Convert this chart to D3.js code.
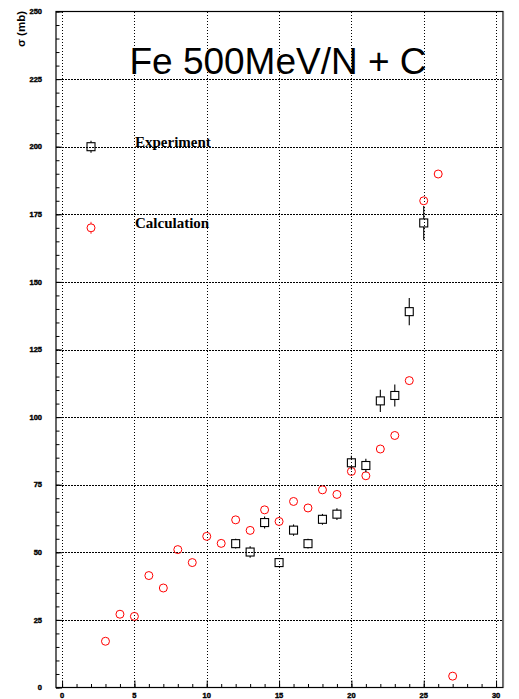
<!DOCTYPE html>
<html>
<head>
<meta charset="utf-8">
<script src="https://cdn.jsdelivr.net/npm/d3@7"></script>
<style>
  html, body { margin: 0; padding: 0; background: #fff; }
  svg { display: block; }
</style>
</head>
<body>
<svg id="chart" width="519" height="699"></svg>
<script>
// ---- data ----
const calcZ = [3, 4, 5, 6, 7, 8, 9, 10, 11, 12, 13, 14, 15, 16, 17, 18, 19, 20, 21, 22, 23, 24, 25, 26, 27];
const calcSigma = [17.1, 27.1, 26.3, 41.4, 36.8, 51.0, 46.2, 55.9, 53.3, 62.0, 58.1, 65.7, 61.4, 68.8, 66.4, 73.1, 71.4, 79.9, 78.3, 88.2, 93.2, 113.5, 180.0, 189.9, 4.2];
const expZ = [12, 13, 14, 15, 16, 17, 18, 19, 20, 21, 22, 23, 24, 25];
const expSigma = [53.2, 50.1, 61.0, 46.2, 58.2, 53.2, 62.2, 64.1, 83.1, 82.1, 106.0, 108.0, 139.0, 171.8];
const expErr = [1.8, 2.1, 2.2, 1.5, 2.1, 1.8, 2.0, 2.2, 2.6, 2.5, 4.1, 4.1, 5.0, 6.3];
const xTicks = [0, 5, 10, 15, 20, 25, 30];
const yTicks = [0, 25, 50, 75, 100, 125, 150, 175, 200, 225, 250];
const legendItems = [
  { label: "Experiment", z: 2, sigma: 200, type: "exp" },
  { label: "Calculation", z: 2, sigma: 170, type: "calc" }
];
const titleText = "Fe 500MeV/N + C";
const yTitle = "\u03c3 (mb)";

(function () {
// ---- layout ----
const svg = d3.select("#chart");
const pL = 56, pR = 503, pT = 11.5, pB = 687.5;
const x = d3.scaleLinear().domain([-0.42, 30.48]).range([pL, pR]);
const y = d3.scaleLinear().domain([0, 250]).range([pB, pT]);

// gridlines (dotted)
const grid = svg.append("g").attr("stroke", "#000").attr("stroke-width", 1)
  .attr("stroke-dasharray", "1.5,1.5").attr("shape-rendering", "crispEdges");
grid.selectAll("line.v").data(xTicks).join("line")
  .attr("x1", d => Math.round(x(d)) + 0.5).attr("x2", d => Math.round(x(d)) + 0.5)
  .attr("y1", pT).attr("y2", pB);
grid.selectAll("line.h").data(yTicks.filter(d => d > 0 && d < 250)).join("line")
  .attr("x1", pL).attr("x2", pR)
  .attr("y1", d => Math.round(y(d)) + 0.5).attr("y2", d => Math.round(y(d)) + 0.5);

// frame
svg.append("rect").attr("x", pL).attr("y", pT).attr("width", pR - pL).attr("height", pB - pT)
  .attr("fill", "none").attr("stroke", "#000").attr("stroke-width", 1.2);
svg.append("line").attr("x1", pR + 0.5).attr("x2", pR + 0.5).attr("y1", pT).attr("y2", pB)
  .attr("stroke", "#777").attr("stroke-width", 1.2);

// axes with inside ticks
const yAxisMajor = d3.axisRight(y).tickValues(yTicks).tickSize(6).tickFormat("");
const yAxisMinor = d3.axisRight(y).tickValues(d3.range(0, 251, 5)).tickSize(3.5).tickFormat("");
svg.append("g").attr("transform", `translate(${pL},0)`).call(yAxisMinor).call(g => g.select(".domain").remove());
svg.append("g").attr("transform", `translate(${pL},0)`).call(yAxisMajor).call(g => g.select(".domain").remove());
const xAxisMajor = d3.axisTop(x).tickValues(xTicks).tickSize(7).tickFormat("");
const xAxisMinor = d3.axisTop(x).tickValues(d3.range(0, 31, 1)).tickSize(3.5).tickFormat("");
svg.append("g").attr("transform", `translate(0,${pB})`).call(xAxisMinor).call(g => g.select(".domain").remove());
svg.append("g").attr("transform", `translate(0,${pB})`).call(xAxisMajor).call(g => g.select(".domain").remove());

// tick labels
svg.append("g").selectAll("text").data(yTicks).join("text")
  .attr("x", 42).attr("y", d => y(d) + 2.6)
  .attr("text-anchor", "end")
  .attr("font-family", "Liberation Sans, Arial, sans-serif").attr("font-weight", "bold")
  .attr("font-size", 7.5).attr("fill", "#000").attr("stroke", "#000").attr("stroke-width", 0.4)
  .text(d => d);
svg.append("g").selectAll("text").data(xTicks).join("text")
  .attr("x", d => x(d)).attr("y", 698)
  .attr("text-anchor", "middle")
  .attr("font-family", "Liberation Sans, Arial, sans-serif").attr("font-weight", "bold")
  .attr("font-size", 7.5).attr("fill", "#000").attr("stroke", "#000").attr("stroke-width", 0.4)
  .text(d => d);

// y title
svg.append("text")
  .attr("transform", "translate(25,47) rotate(-90)")
  .attr("text-anchor", "start")
  .attr("font-family", "Liberation Sans, Arial, sans-serif").attr("font-weight", "bold")
  .attr("font-size", 10).attr("fill", "#000")
  .attr("textLength", 36).attr("lengthAdjust", "spacingAndGlyphs")
  .text(yTitle);

// title
svg.append("text")
  .attr("x", 278).attr("y", 74)
  .attr("text-anchor", "middle")
  .attr("font-family", "Liberation Sans, Arial, sans-serif")
  .attr("font-size", 37).attr("fill", "#000")
  .text(titleText);

// marker drawing helpers
const half = 4;
function drawSquare(g, cx, cy, errPx) {
  g.append("rect").attr("x", cx - half).attr("y", cy - half).attr("width", 2 * half).attr("height", 2 * half)
    .attr("fill", "none").attr("stroke", "#000").attr("stroke-width", 1.1);
  if (errPx > half) {
    g.append("line").attr("x1", cx).attr("x2", cx).attr("y1", cy - errPx).attr("y2", cy - half)
      .attr("stroke", "#000").attr("stroke-width", 1.1);
    g.append("line").attr("x1", cx).attr("x2", cx).attr("y1", cy + half).attr("y2", cy + errPx)
      .attr("stroke", "#000").attr("stroke-width", 1.1);
  }
}
function drawCircle(g, cx, cy) {
  g.append("circle").attr("cx", cx).attr("cy", cy).attr("r", 4)
    .attr("fill", "none").attr("stroke", "#ff0000").attr("stroke-width", 1);
}

// calculation points
const calcG = svg.append("g");
calcZ.forEach((z, i) => drawCircle(calcG, x(z), y(calcSigma[i])));

// experiment points
const expG = svg.append("g");
expZ.forEach((z, i) => {
  const cy = y(expSigma[i]);
  const errPx = Math.abs(y(expSigma[i] + expErr[i]) - cy);
  drawSquare(expG, x(z), cy, errPx);
});

// legend
const legG = svg.append("g");
legendItems.forEach(item => {
  const cx = x(item.z), cy = y(item.sigma);
  if (item.type === "exp") {
    drawSquare(legG, cx, cy, half + 2);
  } else {
    legG.append("line").attr("x1", cx).attr("x2", cx).attr("y1", cy - 6).attr("y2", cy + 6)
      .attr("stroke", "#ff0000").attr("stroke-width", 0.8);
    legG.append("circle").attr("cx", cx).attr("cy", cy).attr("r", 4)
      .attr("fill", "#fff").attr("stroke", "#ff0000").attr("stroke-width", 1);
  }
  legG.append("text")
    .attr("x", 135).attr("y", cy + 0.5)
    .attr("font-family", "Liberation Serif, Times New Roman, serif").attr("font-weight", "bold")
    .attr("font-size", 15).attr("fill", "#000")
    .text(item.label);
});
})();
</script>
</body>
</html>
